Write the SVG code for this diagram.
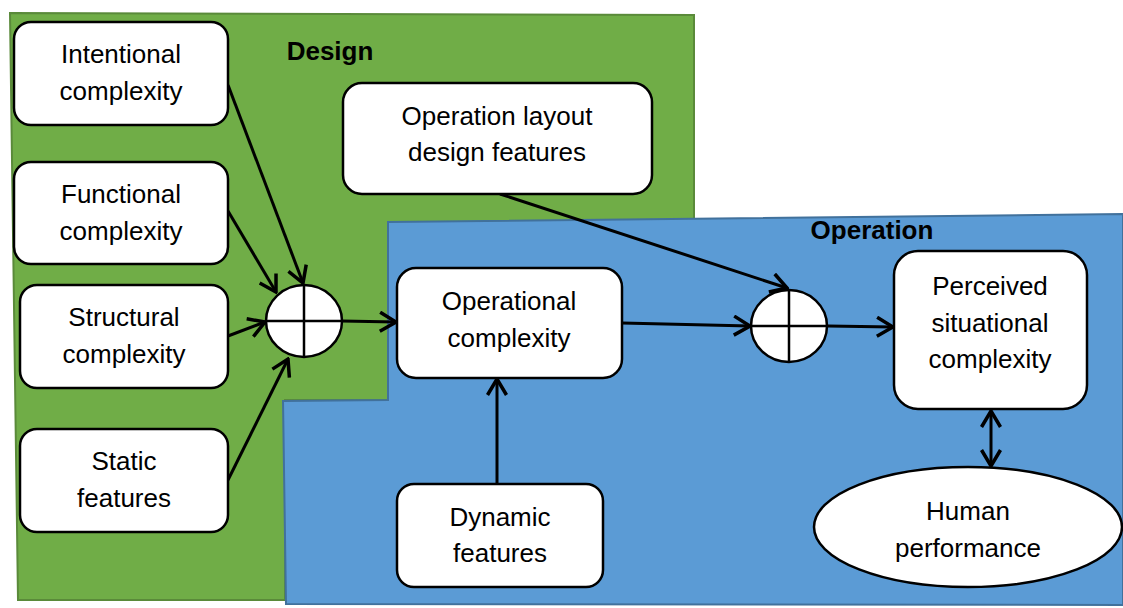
<svg xmlns="http://www.w3.org/2000/svg" width="1123" height="608" viewBox="0 0 1123 608">
  <style>
    .box { fill: #ffffff; stroke: #000000; stroke-width: 2.5; }
    .lbl { font-family: "Liberation Sans", Arial, sans-serif; font-size: 26px; fill: #000000; text-anchor: middle; }
    .title { font-family: "Liberation Sans", Arial, sans-serif; font-size: 26px; font-weight: bold; fill: #000000; text-anchor: middle; }
    .sum { fill: #ffffff; stroke: #000000; stroke-width: 2.5; }
    .cross { stroke: #000000; stroke-width: 2.5; }
    .conn { fill: none; stroke: #000000; stroke-width: 3; marker-end: url(#arrow); }
  </style>
  <defs>
    <marker id="arrow" viewBox="0 0 20 22" refX="18" refY="11" markerWidth="20" markerHeight="22" markerUnits="userSpaceOnUse" orient="auto-start-reverse">
      <path d="M2,1.5 L18,11 L2,20.5" fill="none" stroke="#000000" stroke-width="3.5" stroke-linejoin="miter"/>
    </marker>
  </defs>

  <rect width="1123" height="608" fill="#ffffff"/>

  <!-- Design area -->
  <g id="area-design">
    <polygon points="10,13 694,15 694,400 285,400 285,600 18,600" fill="#70ad47" stroke="#5a8a3a" stroke-width="2"/>
    <text class="title" x="330" y="60">Design</text>
  </g>

  <!-- Operation area -->
  <g id="area-operation">
    <polygon points="388,222 1123,214 1123,605 286,604 283,401 388,400" fill="#5b9bd5" stroke="#41719c" stroke-width="2"/>
    <text class="title" x="872" y="239">Operation</text>
  </g>

  <!-- Connectors -->
  <g id="connectors">
    <line class="conn" x1="228" y1="85" x2="303" y2="283"/>
    <line class="conn" x1="228" y1="211" x2="276" y2="292"/>
    <line class="conn" x1="228" y1="336" x2="265" y2="322"/>
    <line class="conn" x1="228" y1="480" x2="288" y2="359"/>
    <line class="conn" x1="342" y1="321" x2="396" y2="322"/>
    <line class="conn" x1="500" y1="194" x2="787" y2="288"/>
    <line class="conn" x1="622" y1="323" x2="750" y2="326"/>
    <line class="conn" x1="828" y1="326" x2="893" y2="327"/>
    <line class="conn" x1="497" y1="484" x2="497" y2="379"/>
    <line class="conn" x1="991" y1="411" x2="991" y2="466" style="marker-start: url(#arrow)"/>
  </g>

  <g id="node-intentional">
    <rect class="box" x="14" y="22" width="214" height="103" rx="17"/>
    <text class="lbl" x="121" y="63">Intentional</text>
    <text class="lbl" x="121" y="100">complexity</text>
  </g>

  <g id="node-functional">
    <rect class="box" x="14" y="162" width="214" height="102" rx="17"/>
    <text class="lbl" x="121" y="203">Functional</text>
    <text class="lbl" x="121" y="240">complexity</text>
  </g>

  <g id="node-structural">
    <rect class="box" x="20" y="285" width="208" height="103" rx="17"/>
    <text class="lbl" x="124" y="326">Structural</text>
    <text class="lbl" x="124" y="363">complexity</text>
  </g>

  <g id="node-static">
    <rect class="box" x="20" y="429" width="208" height="103" rx="17"/>
    <text class="lbl" x="124" y="470">Static</text>
    <text class="lbl" x="124" y="507">features</text>
  </g>

  <g id="node-layout">
    <rect class="box" x="343" y="83" width="309" height="111" rx="19"/>
    <text class="lbl" x="497" y="125">Operation layout</text>
    <text class="lbl" x="497" y="161">design features</text>
  </g>

  <g id="sum-design">
    <ellipse class="sum" cx="304" cy="321" rx="38" ry="36"/>
    <line class="cross" x1="266" y1="321" x2="342" y2="321"/>
    <line class="cross" x1="304" y1="285" x2="304" y2="357"/>
  </g>

  <g id="node-operational">
    <rect class="box" x="397" y="268" width="225" height="110" rx="19"/>
    <text class="lbl" x="509" y="310">Operational</text>
    <text class="lbl" x="509" y="347">complexity</text>
  </g>

  <g id="node-dynamic">
    <rect class="box" x="397" y="484" width="206" height="103" rx="17"/>
    <text class="lbl" x="500" y="526">Dynamic</text>
    <text class="lbl" x="500" y="562">features</text>
  </g>

  <g id="sum-operation">
    <ellipse class="sum" cx="789" cy="326" rx="38" ry="36"/>
    <line class="cross" x1="751" y1="326" x2="827" y2="326"/>
    <line class="cross" x1="789" y1="290" x2="789" y2="362"/>
  </g>

  <g id="node-perceived">
    <rect class="box" x="894" y="251" width="193" height="158" rx="24"/>
    <text class="lbl" x="990" y="295">Perceived</text>
    <text class="lbl" x="990" y="332">situational</text>
    <text class="lbl" x="990" y="368">complexity</text>
  </g>

  <g id="node-human">
    <ellipse class="box" cx="968" cy="527" rx="154" ry="60"/>
    <text class="lbl" x="968" y="520">Human</text>
    <text class="lbl" x="968" y="557">performance</text>
  </g>
</svg>
